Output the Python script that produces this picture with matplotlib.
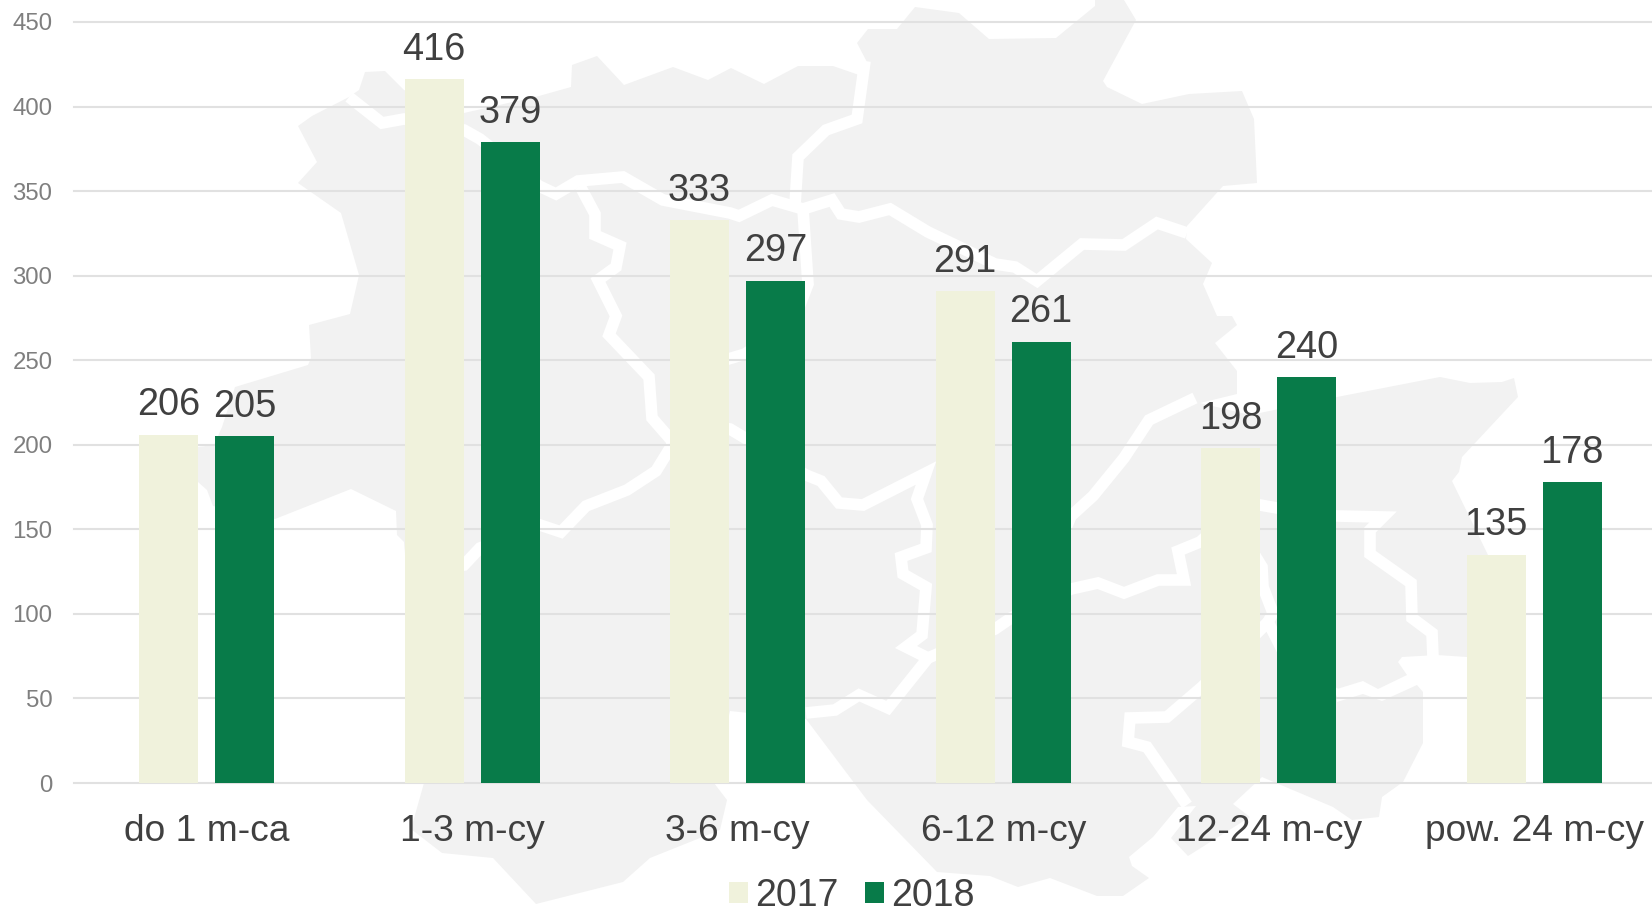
import numpy as np
import matplotlib
matplotlib.use("Agg")
import matplotlib.pyplot as plt
from matplotlib.patches import Patch, Polygon

plt.rcParams['font.family'] = ['Liberation Sans', 'DejaVu Sans']

categories = ["do 1 m-ca", "1-3 m-cy", "3-6 m-cy", "6-12 m-cy", "12-24 m-cy", "pow. 24 m-cy"]
values_2017 = [206, 416, 333, 291, 198, 135]
values_2018 = [205, 379, 297, 261, 240, 178]
y_ticks = [0, 50, 100, 150, 200, 250, 300, 350, 400, 450]

# Hintergrundkarte, Bildpunkte (x, y von oben)
map_outline = [
    (298, 126), (312, 116), (349, 97), (359, 90), (365, 72), (385, 71), (404, 90), (464, 113),
    (539, 96), (571, 87), (572, 65), (597, 56), (624, 85), (673, 67), (708, 80), (731, 68),
    (764, 84), (798, 66), (833, 66), (859, 75), (868, 64), (857, 43), (868, 29), (897, 29),
    (915, 7), (959, 13), (989, 39), (1056, 38), (1095, 6), (1095, 0), (1124, 0), (1136, 20),
    (1103, 81), (1107, 87), (1142, 104), (1189, 94), (1242, 91), (1254, 119), (1257, 183),
    (1223, 186), (1187, 226), (1186, 239), (1212, 263), (1203, 284), (1217, 316), (1232, 316),
    (1237, 325), (1215, 343), (1237, 371), (1237, 394), (1200, 403), (1250, 415), (1337, 397),
    (1440, 377), (1470, 383), (1502, 382), (1514, 378), (1518, 397), (1462, 457), (1459, 472),
    (1452, 481), (1488, 555), (1500, 640), (1467, 657), (1437, 655), (1402, 657), (1398, 662),
    (1407, 675), (1378, 689), (1363, 681), (1337, 689), (1337, 702), (1363, 694), (1382, 701),
    (1417, 685), (1423, 692), (1423, 743), (1403, 782), (1382, 797), (1379, 817), (1352, 820),
    (1333, 807), (1262, 777), (1233, 804), (1250, 817), (1188, 856), (1171, 838), (1196, 806),
    (1178, 807), (1153, 837), (1129, 857), (1132, 866), (1149, 878), (1123, 896), (1097, 896),
    (1050, 878), (1018, 887), (990, 876), (937, 872), (867, 800), (806, 719), (730, 711),
    (714, 783), (727, 800), (720, 830), (650, 858), (623, 882), (536, 904), (493, 858),
    (442, 853), (411, 829), (424, 783), (404, 542), (397, 535), (396, 511), (351, 489),
    (275, 519), (213, 506), (207, 490), (198, 482), (198, 447), (214, 445), (222, 427),
    (235, 387), (308, 365), (311, 358), (309, 325), (350, 314), (359, 275), (341, 213),
    (298, 183), (317, 162),
]
map_borders = [
    [(349, 97), (382, 123), (404, 119), (464, 130), (480, 139), (539, 186), (556, 194), (578, 181),
     (623, 177), (663, 200), (730, 213), (739, 216), (772, 200), (803, 209), (832, 200), (841, 214),
     (859, 217), (890, 209), (928, 232), (995, 264), (1015, 267), (1037, 281), (1082, 244),
     (1124, 245), (1157, 223), (1187, 233)],
    [(865, 61), (857, 119), (826, 130), (798, 157), (795, 205)],
    [(580, 186), (595, 214), (595, 235), (620, 246), (616, 267), (598, 280), (616, 316), (609, 335),
     (649, 377), (652, 418), (672, 441)],
    [(803, 209), (808, 284), (794, 320), (745, 354), (725, 360), (700, 390), (672, 445)],
    [(672, 445), (656, 471), (627, 490), (586, 506), (561, 532), (540, 525), (480, 548), (464, 565),
     (430, 570)],
    [(672, 420), (730, 429), (745, 438), (806, 475), (821, 481), (839, 503), (863, 505), (926, 473),
     (917, 499), (927, 525), (926, 548), (901, 557), (903, 574), (926, 587), (922, 635), (906, 647),
     (928, 658), (888, 708), (859, 695), (835, 710), (806, 713)],
    [(928, 658), (995, 629), (1011, 618), (1071, 589), (1098, 583), (1124, 593), (1158, 580),
     (1184, 580), (1178, 551), (1200, 542), (1230, 515), (1260, 505), (1277, 508), (1337, 516),
     (1383, 517), (1370, 530), (1370, 554), (1411, 583), (1412, 618), (1432, 633), (1433, 657)],
    [(1195, 398), (1149, 420), (1124, 458), (1093, 496), (1071, 516), (1040, 590)],
    [(1230, 515), (1262, 567), (1263, 587), (1273, 613), (1268, 622)],
    [(1187, 805), (1147, 747), (1128, 742), (1130, 718), (1167, 717), (1202, 687), (1250, 640),
     (1268, 622), (1290, 665), (1337, 695)],
]

fig = plt.figure(figsize=(16.52, 9.08), dpi=100)

# Karte hinter dem Diagramm
bg = fig.add_axes([0, 0, 1, 1], zorder=0)
bg.set_xlim(0, 1652)
bg.set_ylim(908, 0)
bg.axis('off')
bg.add_patch(Polygon(map_outline, closed=True, facecolor="#f2f2f2", edgecolor="none"))
for border in map_borders:
    xs, ys = zip(*border)
    bg.plot(xs, ys, color="white", lw=8.4, solid_joinstyle='miter', solid_capstyle='butt')

# Achse geht rechts über das Bild hinaus, wie im Original
ax = fig.add_axes([74 / 1652, 1 - 783 / 908, 1593 / 1652, 761 / 908], zorder=1)
ax.patch.set_alpha(0)

x = np.arange(len(categories)) + 0.5
bar_w = 59 / 265.5
offset = 38 / 265.5

ax.bar(x - offset - 0.0007, values_2017, bar_w, color="#f0f2dc", zorder=3)
ax.bar(x + offset - 0.0007, values_2018, bar_w, color="#087b49", zorder=3)

for xi, v17, v18 in zip(x, values_2017, values_2018):
    for xb, v in [(xi - offset, v17), (xi + offset, v18)]:
        ax.annotate(str(v), (xb, v), xytext=(-0.3, 13.9), textcoords='offset points',
                    ha='center', va='baseline', fontsize=27.4, color="#404040", zorder=4)

ax.set_xlim(0, len(categories))
ax.set_ylim(0, 450)
ax.set_yticks(y_ticks)
ax.set_xticks(x)
ax.set_xticklabels(categories, fontsize=26.7, color="#404040")
ax.tick_params(axis='x', length=0, pad=22)
ax.tick_params(axis='y', length=0, pad=15.4, labelsize=17.3, labelcolor="#7f7f7f")
ax.grid(axis='y', color="#e1e1e1", lw=1.5, zorder=1)
for line in ax.get_ygridlines():
    line.set_clip_on(False)
for spine in ax.spines.values():
    spine.set_visible(False)

handles = [Patch(facecolor="#f0f2dc", label="2017"), Patch(facecolor="#087b49", label="2018")]
fig.legend(handles=handles, loc='lower left', bbox_to_anchor=(729 / 1652, -0.0065), ncol=2,
           frameon=False, fontsize=27, labelcolor="#404040", borderpad=0, borderaxespad=0,
           handlelength=0.51, handleheight=0.51, handletextpad=0.18, columnspacing=0.72)

fig.savefig("out.png", dpi=100)
